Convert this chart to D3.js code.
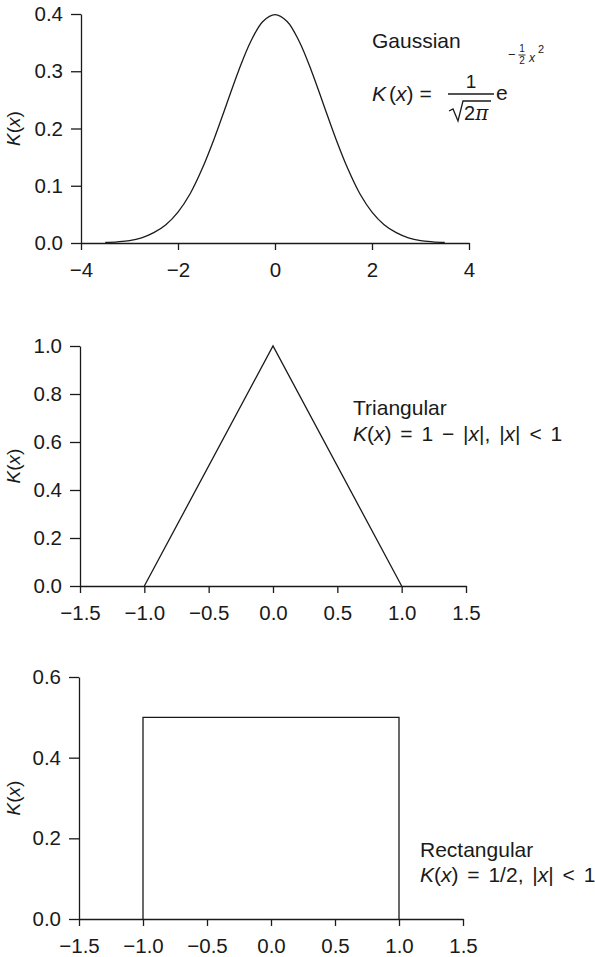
<!DOCTYPE html>
<html>
<head>
<meta charset="utf-8">
<script src="https://cdn.jsdelivr.net/npm/d3@7"></script>
<style>
  html, body { margin: 0; padding: 0; background: #fff; }
  svg { display: block; }
  text { font-family: "Liberation Sans", Arial, Helvetica, sans-serif; fill: #1a1a1a; }
  .axis path, .axis line { stroke: #1a1a1a; stroke-width: 1.3; }
  .axis text { font-size: 20.5px; fill: #1a1a1a; }
  .curve { fill: none; stroke: #1a1a1a; stroke-width: 1.3; }
  .note { font-size: 21px; word-spacing: 3px; }
</style>
</head>
<body>
<svg id="chart" width="595" height="957"></svg>
<script>
// Gaussian kernel samples
const gaussX = [-3.5, -3.25, -3.0, -2.75, -2.5, -2.25, -2.0, -1.75, -1.5, -1.25, -1.0, -0.75, -0.5, -0.25,
                0, 0.25, 0.5, 0.75, 1.0, 1.25, 1.5, 1.75, 2.0, 2.25, 2.5, 2.75, 3.0, 3.25, 3.5];
const gaussK = [0.001, 0.002, 0.004, 0.009, 0.018, 0.032, 0.054, 0.086, 0.130, 0.183, 0.242, 0.301, 0.352, 0.387,
                0.399, 0.387, 0.352, 0.301, 0.242, 0.183, 0.130, 0.086, 0.054, 0.032, 0.018, 0.009, 0.004, 0.002, 0.001];

// Triangular kernel vertices
const triX = [-1, 0, 1];
const triK = [0, 1, 0];

// Rectangular kernel outline
const rectX = [-1, -1, 1, 1];
const rectK = [0, 0.5, 0.5, 0];

// Axis ticks
const gaussXTicks = [-4, -2, 0, 2, 4];
const gaussYTicks = [0, 0.1, 0.2, 0.3, 0.4];
const triXTicks = [-1.5, -1.0, -0.5, 0.0, 0.5, 1.0, 1.5];
const triYTicks = [0, 0.2, 0.4, 0.6, 0.8, 1.0];
const rectXTicks = [-1.5, -1.0, -0.5, 0.0, 0.5, 1.0, 1.5];
const rectYTicks = [0, 0.2, 0.4, 0.6];

const svg = d3.select("#chart");
svg.append("rect").attr("width", 595).attr("height", 957).attr("fill", "#fff");

function panel(opts) {
  const x = d3.scaleLinear().domain(opts.xDomain).range(opts.xRange);
  const y = d3.scaleLinear().domain(opts.yDomain).range(opts.yRange);
  const g = svg.append("g");

  g.append("g")
    .attr("class", "axis")
    .attr("transform", `translate(0,${opts.yRange[0]})`)
    .call(d3.axisBottom(x).tickValues(opts.xTicks).tickFormat(d3.format(opts.xFormat))
      .tickSize(7).tickSizeOuter(0).tickPadding(12))
    .call(a => a.selectAll("text").attr("font-family", null));

  g.append("g")
    .attr("class", "axis")
    .attr("transform", `translate(${opts.xRange[0]},0)`)
    .call(d3.axisLeft(y).tickValues(opts.yTicks).tickFormat(d3.format(".1f"))
      .tickSize(10).tickSizeOuter(0).tickPadding(8))
    .call(a => a.selectAll("text").attr("font-family", null));

  const line = d3.line().x(d => x(d[0])).y(d => y(d[1]));
  if (opts.curve) line.curve(opts.curve);
  g.append("path")
    .attr("class", "curve")
    .attr("d", line(d3.zip(opts.xs, opts.ys)));

  // rotated y-axis title K(x)
  const t = g.append("text")
    .attr("transform", `translate(${opts.titleX},${(opts.yRange[0] + opts.yRange[1]) / 2}) rotate(-90)`)
    .attr("text-anchor", "middle")
    .attr("font-size", 19);
  t.append("tspan").attr("font-style", "italic").text("K");
  t.append("tspan").text("(");
  t.append("tspan").attr("font-style", "italic").text("x");
  t.append("tspan").text(")");
  return { x, y, g };
}

panel({
  xDomain: [-4, 4], xRange: [81, 469],
  yDomain: [0, 0.4], yRange: [243, 14],
  xTicks: gaussXTicks, yTicks: gaussYTicks, xFormat: "d",
  xs: gaussX, ys: gaussK, curve: d3.curveCatmullRom, titleX: 20
});

panel({
  xDomain: [-1.5, 1.5], xRange: [80, 466],
  yDomain: [0, 1], yRange: [586, 346],
  xTicks: triXTicks, yTicks: triYTicks, xFormat: ".1f",
  xs: triX, ys: triK, titleX: 20
});

panel({
  xDomain: [-1.5, 1.5], xRange: [79, 463],
  yDomain: [0, 0.6], yRange: [919, 677],
  xTicks: rectXTicks, yTicks: rectYTicks, xFormat: ".1f",
  xs: rectX, ys: rectK, titleX: 20
});

// ---- Gaussian annotation ----
svg.append("text").attr("class", "note").attr("x", 372).attr("y", 48).text("Gaussian");

const f = svg.append("g");
const lhs = f.append("text").attr("x", 372).attr("y", 101).attr("font-size", 21);
lhs.append("tspan").attr("font-style", "italic").text("K");
lhs.append("tspan").attr("dx", 3).text("(");
lhs.append("tspan").attr("font-style", "italic").text("x");
lhs.append("tspan").text(")");
lhs.append("tspan").attr("dx", 6).text("=");
// fraction 1 / sqrt(2 pi)
f.append("text").attr("x", 471).attr("y", 88).attr("font-size", 19).attr("text-anchor", "middle").text("1");
f.append("line").attr("x1", 448).attr("x2", 494).attr("y1", 94).attr("y2", 94)
  .attr("stroke", "#1a1a1a").attr("stroke-width", 1.3);
f.append("path").attr("d", "M449,111 L453,109 L458,121 L463,101 L491,101")
  .attr("fill", "none").attr("stroke", "#1a1a1a").attr("stroke-width", 1.3);
const den = f.append("text").attr("x", 464).attr("y", 120).attr("font-size", 20);
den.append("tspan").text("2");
den.append("tspan").attr("font-family", "DejaVu Serif").attr("font-style", "italic").text("π");
// exponential with superscript -1/2 x^2
f.append("text").attr("x", 496).attr("y", 100).attr("font-size", 21).text("e");
f.append("text").attr("x", 508).attr("y", 59).attr("font-size", 13).text("−");
f.append("text").attr("x", 522).attr("y", 52).attr("font-size", 10).attr("text-anchor", "middle").text("1");
f.append("line").attr("x1", 518.5).attr("x2", 525.5).attr("y1", 55).attr("y2", 55)
  .attr("stroke", "#1a1a1a").attr("stroke-width", 0.9);
f.append("text").attr("x", 522).attr("y", 64).attr("font-size", 10).attr("text-anchor", "middle").text("2");
f.append("text").attr("x", 529).attr("y", 62).attr("font-size", 12).attr("font-style", "italic").text("x");
f.append("text").attr("x", 538).attr("y", 53).attr("font-size", 11).text("2");

// ---- Triangular annotation ----
svg.append("text").attr("class", "note").attr("x", 353).attr("y", 415).text("Triangular");
const tri = svg.append("text").attr("class", "note").attr("x", 353).attr("y", 441);
tri.append("tspan").attr("font-style", "italic").text("K");
tri.append("tspan").text("(");
tri.append("tspan").attr("font-style", "italic").text("x");
tri.append("tspan").text(") = 1 − |");
tri.append("tspan").attr("font-style", "italic").text("x");
tri.append("tspan").text("|, |");
tri.append("tspan").attr("font-style", "italic").text("x");
tri.append("tspan").text("| < 1");

// ---- Rectangular annotation ----
svg.append("text").attr("class", "note").attr("x", 420).attr("y", 857).text("Rectangular");
const rec = svg.append("text").attr("class", "note").attr("x", 420).attr("y", 882);
rec.append("tspan").attr("font-style", "italic").text("K");
rec.append("tspan").text("(");
rec.append("tspan").attr("font-style", "italic").text("x");
rec.append("tspan").text(") = 1/2, |");
rec.append("tspan").attr("font-style", "italic").text("x");
rec.append("tspan").text("| < 1");
</script>
</body>
</html>
